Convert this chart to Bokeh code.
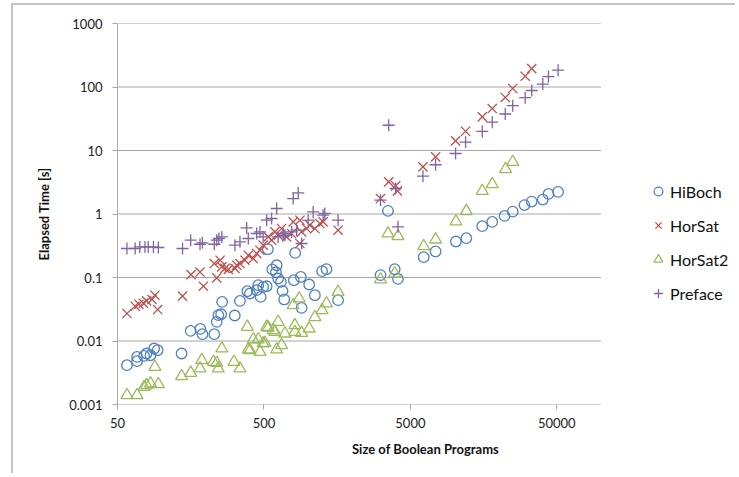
from bokeh.plotting import figure
from bokeh.models import FixedTicker, Legend, LegendItem, Range1d
from bokeh.embed import file_html
from bokeh.resources import INLINE

# ---------------- data ----------------
hiboch_x = [58, 68, 68, 76, 79, 84, 89, 94, 137, 158, 184, 190, 229, 238, 244, 255, 259,
            316, 343, 385, 401, 446, 457, 475, 494, 522, 532, 570, 611, 604, 625, 653, 670,
            688, 800, 817, 893, 904, 1018, 1114, 1248, 1337, 1604, 3126, 3516, 3908, 4114,
            6165, 7432, 10230, 12050, 15480, 18110, 21980, 25000, 30060, 33700, 40090, 43850, 51030]
hiboch_y = [0.00416, 0.00562, 0.00481, 0.00582, 0.00635, 0.00597, 0.00762, 0.00716, 0.00635,
            0.0144, 0.0155, 0.0128, 0.0128, 0.0200, 0.0255, 0.0264, 0.0413, 0.0252, 0.0428,
            0.0608, 0.0560, 0.0631, 0.0757, 0.0494, 0.0711, 0.0729, 0.279, 0.134, 0.156, 0.121,
            0.0964, 0.0853, 0.0615, 0.0451, 0.0906, 0.244, 0.102, 0.0332, 0.0776, 0.0526, 0.126,
            0.135, 0.0440, 0.109, 1.12, 0.135, 0.0951, 0.209, 0.257, 0.369, 0.416, 0.643, 0.751,
            0.933, 1.09, 1.38, 1.57, 1.69, 2.07, 2.23]

horsat_x = [58, 66, 70, 75, 79, 86, 90, 94, 139, 159, 183, 193, 229, 238, 251, 258, 271, 286,
            317, 326, 343, 371, 391, 423, 446, 470, 494, 535, 564, 594, 625, 660, 714, 773, 792,
            880, 880, 904, 977, 1029, 1114, 1204, 1268, 1604, 3126, 3556, 3970, 4075, 6094, 7432,
            10180, 11910, 15480, 18110, 22230, 25000, 30400, 33700]
horsat_y = [0.0271, 0.0353, 0.038, 0.0394, 0.0428, 0.0451, 0.0526, 0.0313, 0.0508, 0.111, 0.122,
            0.0729, 0.166, 0.0986, 0.187, 0.147, 0.139, 0.134, 0.139, 0.156, 0.166, 0.187, 0.224,
            0.199, 0.239, 0.269, 0.323, 0.436, 0.387, 0.522, 0.463, 0.591, 0.436, 0.493, 0.751,
            0.798, 0.343, 0.522, 0.591, 0.667, 0.591, 0.708, 0.751, 0.556, 1.75, 3.21, 2.77, 2.31,
            5.52, 7.93, 14.2, 20.1, 33.8, 45.8, 68.4, 94.7, 148, 195]

horsat2_x = [58, 68, 76, 79, 84, 90, 95, 137, 158, 183, 188, 226, 238, 244, 258, 312, 343, 385,
             391, 401, 423, 457, 470, 494, 508, 522, 535, 578, 594, 611, 625, 660, 695, 792, 813,
             813, 870, 904, 1018, 1114, 1248, 1337, 1604, 3126, 3516, 3908, 4114, 6165, 7432,
             10230, 12050, 15480, 18110, 22330, 25000]
horsat2_y = [0.0014, 0.0014, 0.00189, 0.00201, 0.00214, 0.00391, 0.00209, 0.00279, 0.00315,
             0.00369, 0.00499, 0.00469, 0.00452, 0.00369, 0.00762, 0.00469, 0.00369, 0.0167,
             0.00735, 0.00716, 0.0106, 0.0106, 0.00673, 0.00914, 0.00933, 0.0167, 0.0163, 0.0148,
             0.0139, 0.00735, 0.0200, 0.00859, 0.0131, 0.0366, 0.0177, 0.0139, 0.0467, 0.0134,
             0.0157, 0.0237, 0.0305, 0.039, 0.0593, 0.0931, 0.493, 0.116, 0.447, 0.311, 0.396,
             0.762, 1.11, 2.31, 2.95, 5.08, 6.61]

preface_x = [58, 66, 71, 77, 81, 88, 95, 139, 158, 183, 190, 229, 238, 246, 258, 317, 343, 381,
             391, 446, 470, 494, 522, 564, 611, 625, 677, 695, 773, 792, 836, 857, 904, 1003, 1084,
             1268, 1302, 1604, 3126, 3556, 3970, 4114, 6094, 7432, 10180, 11910, 15480, 18110,
             22230, 25000, 30400, 33700, 40090, 43850, 51030]
preface_y = [0.286, 0.286, 0.303, 0.303, 0.303, 0.303, 0.297, 0.286, 0.387, 0.334, 0.351, 0.334,
             0.387, 0.411, 0.436, 0.323, 0.364, 0.604, 0.411, 0.493, 0.522, 0.436, 0.798, 0.849,
             1.22, 0.436, 0.493, 0.463, 0.522, 1.75, 0.556, 2.15, 0.343, 0.798, 1.08, 0.957, 1.02,
             0.798, 1.65, 25.0, 2.52, 0.627, 3.94, 5.97, 8.97, 13.5, 20.0, 27.9, 37.6, 50.8, 67.8,
             88.1, 111, 146, 184]

series_names = ["HiBoch", "HorSat", "HorSat2", "Preface"]
x_ticks = [50, 500, 5000, 50000]
x_tick_labels = ["50", "500", "5000", "50000"]
y_ticks = [0.001, 0.01, 0.1, 1, 10, 100, 1000]
y_tick_labels = ["0.001", "0.01", "0.1", "1", "10", "100", "1000"]
x_min, x_max = 50, 100000          # plotted x extent (axis line / gridlines)
y_min, y_max = 0.001, 1000

FONT = "Lato"
GRID = "#A6A6A6"

# layout: the frame is extended to the right so the legend (drawn inside it) is not clipped
W, H = 724, 470
LEFT, RIGHT, TOP, BOTTOM = 104, 4, 18, 71
DATA_W = 483.4                      # px of frame used by the x data range
frame_w = W - LEFT - RIGHT
x_end = x_min * (x_max / x_min) ** (frame_w / DATA_W)

p = figure(width=W, height=H, x_axis_type="log", y_axis_type="log",
           x_range=Range1d(x_min, x_end), y_range=Range1d(y_min, y_max),
           output_backend="svg", toolbar_location=None,
           min_border_left=LEFT, min_border_right=RIGHT, min_border_top=TOP, min_border_bottom=BOTTOM,
           styles={"margin-left": "11px", "margin-top": "3px",
                   "border-left": "2px solid #C4C4C4", "border-top": "2px solid #C4C4C4"})
p.outline_line_color = None
p.background_fill_color = "white"
p.border_fill_color = "white"

# axes
p.xaxis.ticker = FixedTicker(ticks=x_ticks, minor_ticks=[])
p.yaxis.ticker = FixedTicker(ticks=y_ticks, minor_ticks=[])
p.xaxis.major_label_overrides = dict(zip(x_ticks, x_tick_labels))
p.yaxis.major_label_overrides = dict(zip(y_ticks, y_tick_labels))
for ax in (p.xaxis, p.yaxis):
    ax.axis_line_color = GRID
    ax.axis_line_width = 1
    ax.major_tick_line_color = GRID
    ax.major_tick_in = 0
    ax.major_tick_out = 5
    ax.minor_tick_line_color = None
    ax.major_label_text_font = FONT
    ax.major_label_text_font_size = "13px"
    ax.major_label_text_color = "#222222"
    ax.axis_label_text_font = FONT
    ax.axis_label_text_font_size = "13px"
    ax.axis_label_text_font_style = "bold"
    ax.axis_label_text_color = "#111111"
p.xaxis.axis_line_color = None      # bottom line drawn with the gridlines (ends at x_max)
p.xaxis.axis_label = "Size of Boolean Programs"
p.yaxis.axis_label = "Elapsed Time [s]"
p.xaxis.major_label_standoff = 8
p.yaxis.major_label_standoff = 10
p.xaxis.axis_label_standoff = 10
p.yaxis.axis_label_standoff = 14

# horizontal gridlines limited to the data extent
p.xgrid.visible = False
p.ygrid.visible = False
p.segment(x0=[x_min] * len(y_ticks), x1=[x_max] * len(y_ticks), y0=y_ticks, y1=y_ticks,
          line_color=GRID, line_width=1)

r1 = p.scatter(hiboch_x, hiboch_y, marker="circle", size=10.5, fill_alpha=0,
               line_color="#4F81BD", line_width=1.3)
r2 = p.scatter(horsat_x, horsat_y, marker="x", size=13,
               line_color="#C0504D", line_width=1.3)
r3 = p.scatter(horsat2_x, horsat2_y, marker="triangle", size=12, fill_alpha=0,
               line_color="#9BBB59", line_width=1.3)
r4 = p.scatter(preface_x, preface_y, marker="cross", size=12,
               line_color="#8064A2", line_width=1.3)

legend = Legend(items=[LegendItem(label=n, renderers=[r]) for n, r in zip(series_names, [r1, r2, r3, r4])],
                location=(530, 100), orientation="vertical",
                glyph_width=22, glyph_height=22, label_height=22, spacing=12,
                padding=0, margin=0, label_standoff=1,
                border_line_color=None, background_fill_alpha=0,
                label_text_font=FONT, label_text_font_size="16px", label_text_color="#111111")
p.add_layout(legend, "center")

open("out.html", "w").write(file_html(p, INLINE))
